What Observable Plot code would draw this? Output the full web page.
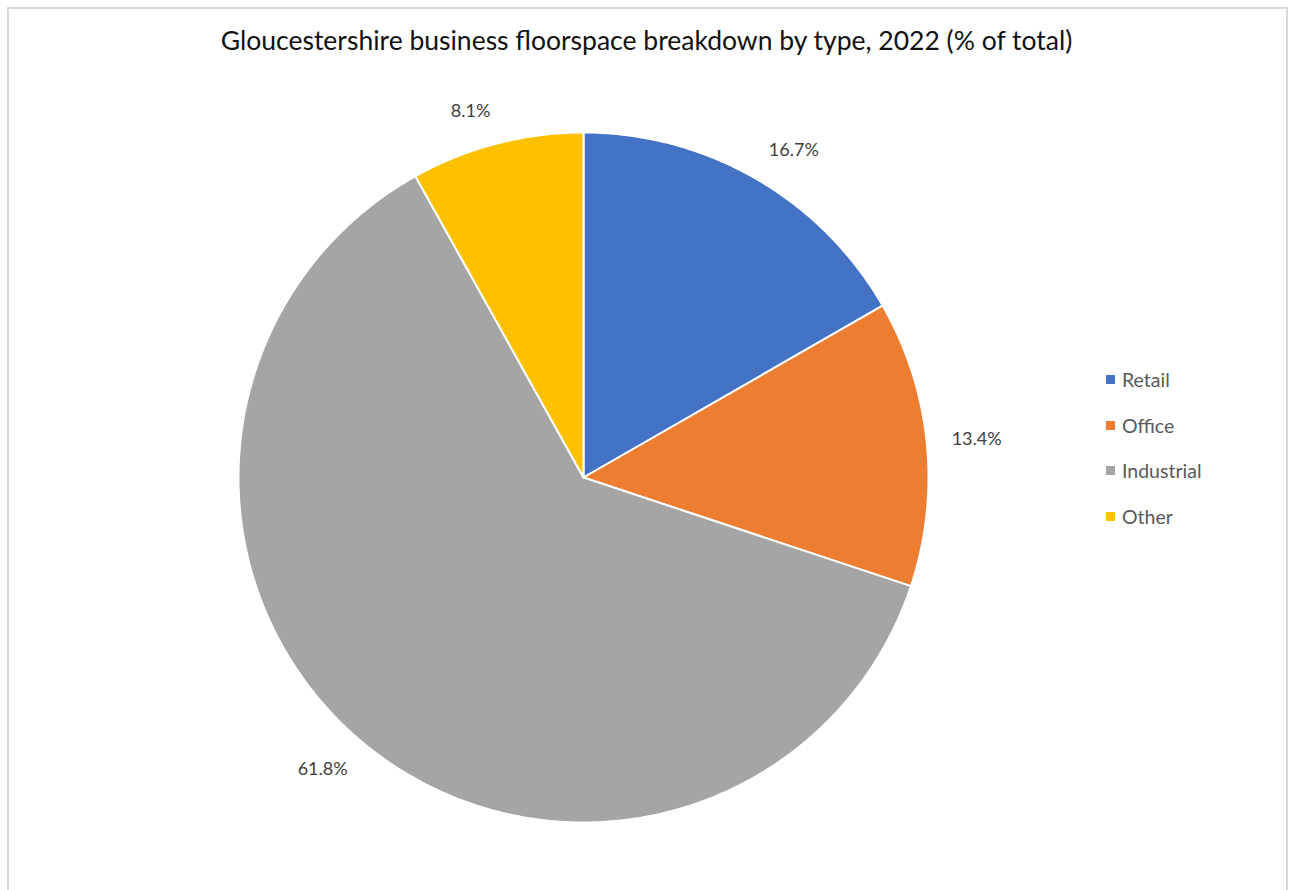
<!DOCTYPE html>
<html>
<head>
<meta charset="utf-8">
<script src="https://cdn.jsdelivr.net/npm/d3@7"></script>
<script src="https://cdn.jsdelivr.net/npm/@observablehq/plot@0.6"></script>
<style>
  html, body { margin: 0; padding: 0; background: #fff; }
  #page { position: relative; width: 1290px; height: 890px; overflow: hidden; font-family: Lato, "Liberation Sans", sans-serif; }
  #frame { position: absolute; left: 7px; top: 7px; width: 1281px; height: 900px; border: 2px solid #d9d9d9; box-sizing: border-box; }
  #title { position: absolute; left: 7px; width: 1279px; top: 24px; text-align: center; font-size: 26.5px; color: #111; font-family: Lato, sans-serif; }
  #chart { position: absolute; left: 0; top: 0; }
  #legend { position: absolute; left: 1106px; top: 357px; }
  .lg-swatch { height: 45.5px !important; margin: 0 !important; padding: 0 !important; display: flex !important; align-items: center !important; }
  .lg-swatch svg { margin-right: 7px !important; }
</style>
</head>
<body>
<div id="page">
  <div id="frame"></div>
  <div id="title">Gloucestershire business floorspace breakdown by type, 2022 (% of total)</div>
  <div id="chart"></div>
  <div id="legend"></div>
</div>
<script>
const categories = ["Retail", "Office", "Industrial", "Other"];
const shares = [16.7, 13.4, 61.8, 8.1];
const labels = ["16.7%", "13.4%", "61.8%", "8.1%"];
const colors = ["#4472C4", "#ED7D31", "#A5A5A5", "#FFC000"];

const rows = categories.map((c, i) => ({cat: c, share: shares[i], label: labels[i]}));
const arcs = d3.pie().sort(null).value(d => d.share)(rows);

// polygon vertices for each slice (unit circle, y up), angles clockwise from 12 o'clock
const pts = [];
for (const a of arcs) {
  pts.push({cat: a.data.cat, x: 0, y: 0});
  const n = Math.max(2, Math.ceil((a.endAngle - a.startAngle) / (Math.PI / 360)));
  for (let k = 0; k <= n; k++) {
    const t = a.startAngle + (a.endAngle - a.startAngle) * k / n;
    pts.push({cat: a.data.cat, x: Math.sin(t), y: Math.cos(t)});
  }
}

const R = 345;               // pixel radius
const labelR = 370 / R;      // label anchor radius in data units
const lab = arcs.map(a => {
  const m = (a.startAngle + a.endAngle) / 2;
  return {
    label: a.data.label,
    side: Math.sin(m) >= 0 ? "right" : "left",
    x: labelR * Math.sin(m),
    y: labelR * Math.cos(m) + Math.cos(m) * 8 / R
  };
});

const chart = Plot.plot({
  width: 1290,
  height: 890,
  marginLeft: 238,
  marginRight: 362,
  marginTop: 132,
  marginBottom: 68,
  x: {domain: [-1, 1], axis: null},
  y: {domain: [-1, 1], axis: null},
  color: {domain: categories, range: colors},
  style: {fontFamily: "Lato, sans-serif", background: "transparent"},
  marks: [
    Plot.line(pts, {x: "x", y: "y", z: "cat", fill: "cat", stroke: "white", strokeWidth: 2, curve: "linear-closed"}),
    Plot.text(lab.filter(d => d.side === "right"), {x: "x", y: "y", text: "label", textAnchor: "start", lineAnchor: "middle", fontSize: 18, fill: "#404040"}),
    Plot.text(lab.filter(d => d.side === "left"), {x: "x", y: "y", text: "label", textAnchor: "end", lineAnchor: "middle", fontSize: 18, fill: "#404040"})
  ]
});
document.getElementById("chart").appendChild(chart);

const legend = Plot.legend({
  color: {domain: categories, range: colors},
  legend: "swatches",
  columns: 1,
  swatchSize: 9,
  className: "lg",
  style: {fontSize: "19.5px", fontFamily: "Lato, sans-serif", color: "#595959"}
});
document.getElementById("legend").appendChild(legend);
</script>
</body>
</html>
